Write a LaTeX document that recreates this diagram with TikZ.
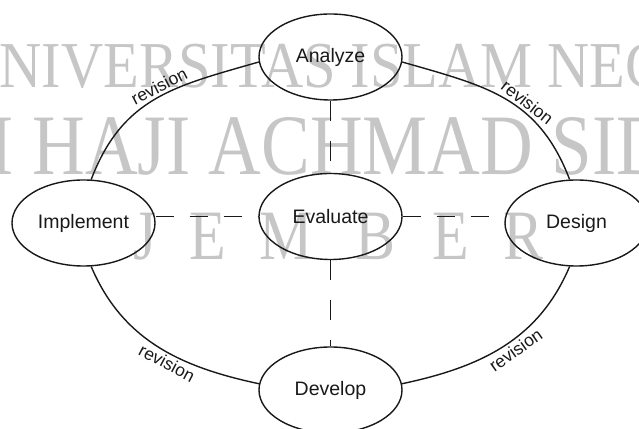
\documentclass[tikz,border=0pt]{standalone}
\usepackage{fontspec}
\setmainfont{Liberation Sans}
\newfontfamily\wmfont{Liberation Serif}
\usetikzlibrary{shapes.geometric}
\definecolor{wm}{RGB}{198,198,198}
\definecolor{ink}{RGB}{25,25,25}
\begin{document}
\begin{tikzpicture}[x=1pt,y=1pt,
  phase/.style={ellipse, draw=ink, line width=1.4pt, minimum width=143pt, minimum height=86pt, inner sep=0pt, font=\fontsize{19.5}{20}\selectfont, text=ink},
  arcline/.style={draw=ink, line width=1.4pt},
  rev/.style={font=\fontsize{17.5}{17.5}\selectfont, text=ink, sloped, inner sep=2.5pt},
  hdash/.style={draw=ink, line width=1.4pt, dash pattern=on 18pt off 16pt},
  vdash/.style={draw=ink, line width=1.4pt, dash pattern=on 20pt off 20pt},
  wmtext/.style={text=wm, inner sep=0pt}
]
\useasboundingbox (0,0) rectangle (639,428);
\clip (0,0) rectangle (639,428);
% watermark
\node[wmtext, anchor=base west] (wm1) at (-43,340) {\scalebox{1}[1.12]{\wmfont\fontsize{58.5}{58.5}\selectfont UNIVERSITAS ISLAM NEGERI}};
\node[wmtext, anchor=base west] (wm2) at (-140,253) {\scalebox{1}[1.18]{\wmfont\fontsize{73}{73}\selectfont KIAI HAJI ACHMAD SIDDIQ}};
\node[wmtext, anchor=base] (wmJ) at (145,168) {\scalebox{1}[1.18]{\wmfont\fontsize{60}{60}\selectfont J}};
\node[wmtext, anchor=base] (wmE) at (207.5,168) {\scalebox{1}[1.18]{\wmfont\fontsize{60}{60}\selectfont E}};
\node[wmtext, anchor=base] (wmM) at (286.5,168) {\scalebox{1}[1.18]{\wmfont\fontsize{60}{60}\selectfont M}};
\node[wmtext, anchor=base] (wmB) at (376,168) {\scalebox{1}[1.18]{\wmfont\fontsize{60}{60}\selectfont B}};
\node[wmtext, anchor=base] (wmE2) at (450.5,168) {\scalebox{1}[1.18]{\wmfont\fontsize{60}{60}\selectfont E}};
\node[wmtext, anchor=base] (wmR) at (524,168) {\scalebox{1}[1.18]{\wmfont\fontsize{60}{60}\selectfont R}};
% phases
\node[phase] (analyze) at (330.5,371) {Analyze};
\node[phase] (evaluate) at (330.5,211.5) {Evaluate};
\node[phase] (implement) at (83.5,205) {Implement};
\node[phase] (design) at (576.5,205) {Design};
\node[phase] (develop) at (330.5,38) {Develop};
% revision arcs
\draw[arcline] (implement.80) to[out=69,in=196,looseness=1.1] node[rev,above,pos=0.55] (r1) {revision} (analyze.184);
\draw[arcline] (analyze.356) to[out=-16,in=111,looseness=1.1] node[rev,above,pos=0.6] (r2) {revision} (design.99);
\draw[arcline] (implement.280) to[out=-67,in=168] node[rev,below,pos=0.58] (r3) {revision} (develop.175);
\draw[arcline] (design.261) to[out=-113,in=12] node[rev,below,pos=0.46] (r4) {revision} (develop.5);
% dashed links
\draw[hdash] (implement.east |- evaluate.west) -- (evaluate.west);
\draw[hdash] (evaluate.east) -- (evaluate.east -| design.west);
\draw[vdash] (analyze.south) -- (evaluate.north);
\draw[vdash] (evaluate.south) -- (develop.north);
\end{tikzpicture}
\end{document}
